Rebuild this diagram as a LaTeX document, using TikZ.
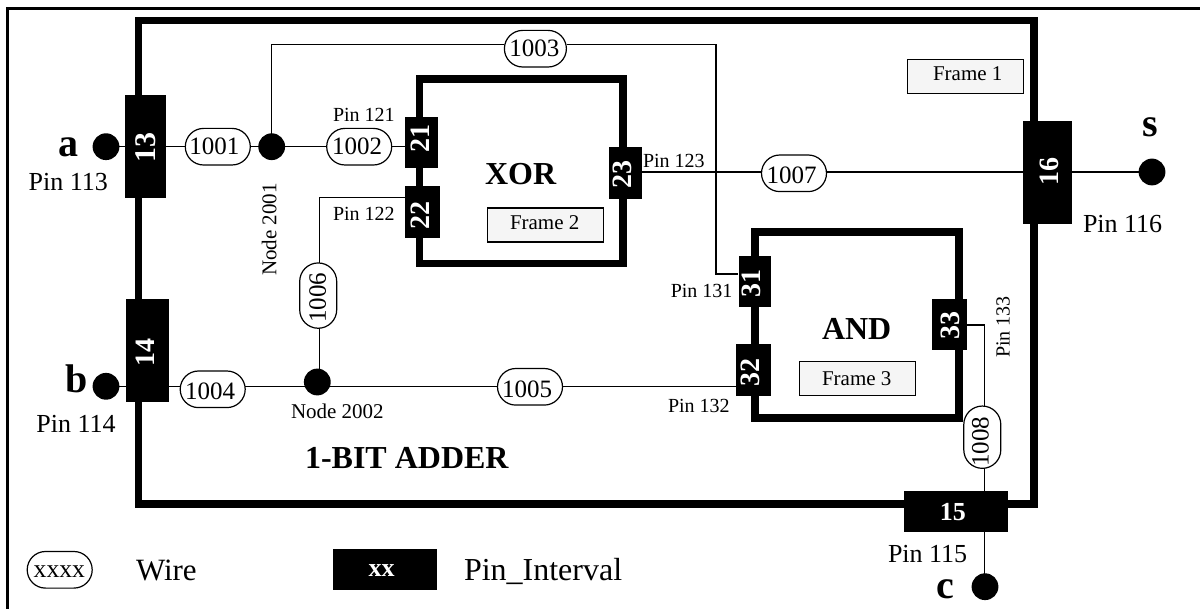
\documentclass[tikz,border=0pt]{standalone}
\usepackage{fontspec}
\setmainfont{Liberation Serif}
\usetikzlibrary{shapes.misc,backgrounds}
\newcommand{\fs}[1]{\fontsize{#1}{#1}\selectfont}
\tikzset{
  x=1pt,y=-1pt,
  wire/.style={draw=black,line width=1.2pt},
  frameline/.style={draw=black,line width=7.6pt,fill=none,inner sep=0pt,line join=miter},
  pinbox/.style={fill=black,draw=none,inner sep=0pt},
  pintext/.style={inner sep=0pt,text=white,font=\fs{28}\bfseries},
  dot/.style={circle,fill=black,draw=none,minimum size=26.8pt,inner sep=0pt},
  pill/.style={rounded rectangle,draw=black,line width=1.2pt,fill=white,inner sep=0pt,minimum height=36.6pt,minimum width=65pt},
  vpill/.style={rounded rectangle,rotate=90,draw=black,line width=1.2pt,fill=white,inner sep=0pt,minimum height=37pt},
  pilltext/.style={inner sep=0pt,font=\fs{25}},
  framebox/.style={draw=black,line width=1.2pt,fill=black!4,inner sep=0pt,minimum width=116pt,minimum height=34pt},
  lbl/.style={anchor=base west,inner sep=0pt,outer sep=0pt},
  small/.style={lbl,font=\fs{20}},
  pinlbl/.style={lbl,font=\fs{26}},
  framelbl/.style={lbl,font=\fs{21}},
  big/.style={lbl,font=\fs{32}\bfseries},
  port/.style={lbl,font=\fs{40}\bfseries},
}
% name, cx, cy, w, h, tx, ty, text
\newcommand{\pinnode}[8]{\node[pinbox,minimum width=#4pt,minimum height=#5pt] (#1) at (#2,#3) {};\node[pintext] (#1t) at (#6,#7) {#8};}
\begin{document}
\begin{tikzpicture}
\useasboundingbox (0,0) rectangle (1200,609);
% pins
\pinnode{p13}{145.5}{146.7}{41}{103}{145.5}{148}{\rotatebox{90}{\fs{30}13}}
\pinnode{p14}{147.5}{350.5}{43}{103}{145.5}{352.2}{\rotatebox{90}{14}}
\pinnode{p15}{955.8}{511.5}{103.6}{41}{952.8}{512.3}{\fs{26}15}
\pinnode{p16}{1047.5}{172.2}{49}{103}{1049}{172}{\rotatebox{90}{16}}
\pinnode{p21}{421.5}{142.3}{33}{51.4}{420}{139}{\rotatebox{90}{21}}
\pinnode{p22}{422.5}{211.8}{35}{51.6}{420}{216}{\rotatebox{90}{22}}
\pinnode{p23}{625.3}{173.2}{32.7}{51.7}{622.5}{174.8}{\rotatebox{90}{23}}
\pinnode{p31}{754.8}{281.5}{32.5}{51.6}{751.7}{283.7}{\rotatebox{90}{31}}
\pinnode{p32}{753.5}{370}{35}{51.4}{750.8}{372.5}{\rotatebox{90}{32}}
\pinnode{p33}{949.5}{324.5}{35}{51}{950}{325.8}{\rotatebox{90}{33}}
% dots
\node[dot] (a) at (106,146.7) {};
\node[dot] (b) at (106,386.3) {};
\node[dot] (c) at (985,586.7) {};
\node[dot] (s) at (1152,172) {};
\node[dot] (n2001) at (271.7,146.7) {};
\node[dot] (n2002) at (317.3,382) {};
% wire pills
\node[pill] (w1001) at (217.8,146.7) {};
\node[pill] (w1002) at (359.2,146.7) {};
\node[pill,minimum width=62pt] (w1003) at (535.4,48.7) {};
\node[pill] (w1004) at (212.7,389.3) {};
\node[pill] (w1005) at (530,386.8) {};
\node[vpill,minimum width=65.3pt] (w1006) at (318.2,295.6) {};
\node[pill] (w1007) at (794,173.3) {};
\node[vpill,minimum width=62.3pt] (w1008) at (982.3,437.2) {};
\node[pilltext] (w1001t) at (214.3,146.3) {1001};
\node[pilltext] (w1002t) at (357,146.3) {1002};
\node[pilltext] (w1003t) at (534.3,48.2) {1003};
\node[pilltext] (w1004t) at (210,391.3) {1004};
\node[pilltext] (w1005t) at (527,389) {1005};
\node[pilltext,rotate=90] (w1006t) at (317.7,298) {1006};
\node[pilltext] (w1007t) at (791.7,175) {1007};
\node[pilltext,rotate=90] (w1008t) at (980.4,441.7) {1008};
% corners
\coordinate (otl) at (7.5,8.2);
\coordinate (otr) at (1200,8.2);
\coordinate (obl) at (7.5,609);
\coordinate (c1003a) at (271.7,44.3);
\coordinate (c1003b) at (716,44.3);
\coordinate (c1003c) at (716,274);
\coordinate (c1006) at (319.6,197.7);
\coordinate (c1008) at (984.6,325);
\begin{scope}[on background layer]
  \draw[black,line width=3pt,line join=miter] (otr) -- (otl) -- (obl);
  \node[frameline,minimum width=895.5pt,minimum height=483.7pt] (adder) at (586.2,262.2) {};
  \node[frameline,minimum width=203.6pt,minimum height=184.3pt] (xor) at (521.2,171.2) {};
  \node[frameline,minimum width=204pt,minimum height=186pt] (and) at (857,325) {};
  \draw[wire] (a.center) -- (p13.center) -- (w1001.center) -- (n2001.center) -- (w1002.center) -- (p21.center |- w1002.center);
  \draw[wire] (n2001.center) -- (c1003a) -- (w1003.west |- c1003a) (w1003.east |- c1003a) -- (c1003b) -- (c1003c) -- (p31.west |- c1003c);
  \draw[wire] (p22.west |- c1006) -- (c1006) -- (c1006 |- n2002.center);
  \draw[wire] (b.center) -- (p32.center |- b.center);
  \draw[wire] (p23.east |- s.center) -- (s.center);
  \draw[wire] (p33.east |- c1008) -- (c1008) -- (c1008 |- c.center);
\end{scope}
% frame labels
\node[framebox] (f1) at (965.3,76.5) {};
\node[framebox] (f2) at (545.5,225) {};
\node[framebox] (f3) at (857.7,378.7) {};
\node[framelbl] (f1t) at (933,81) {Frame 1};
\node[framelbl] (f2t) at (510,230) {Frame 2};
\node[framelbl] (f3t) at (822,385.7) {Frame 3};
% titles
\node[big] (xort) at (485,185) {XOR};
\node[big] (andt) at (822,340) {AND};
\node[big] (addt) at (305,468.3) {1-BIT ADDER};
% ports
\node[port] (at) at (58,156.7) {a};
\node[port] (bt) at (65,392.3) {b};
\node[port] (ct) at (936,598) {c};
\node[port] (st) at (1142.7,136.7) {s};
% pin labels
\node[pinlbl] (l113) at (28.7,190.7) {Pin 113};
\node[pinlbl] (l114) at (36.4,432.3) {Pin 114};
\node[pinlbl] (l115) at (888,562) {Pin 115};
\node[pinlbl] (l116) at (1083,232.7) {Pin 116};
\node[small] (l121) at (333,122) {Pin 121};
\node[small] (l122) at (333,221) {Pin 122};
\node[small] (l123) at (643,167.7) {Pin 123};
\node[small] (l131) at (670.8,297.7) {Pin 131};
\node[small] (l132) at (668,412.7) {Pin 132};
\node[small,rotate=90] (l133) at (1009.5,358) {Pin 133};
\node[framelbl,rotate=90] (ln1) at (276.3,276) {Node 2001};
\node[framelbl] (ln2) at (291,418.3) {Node 2002};
% legend
\node[pill] (lw) at (59.7,569.8) {};
\node[pilltext,font=\fs{25.6}] (lwx) at (59.3,572) {xxxx};
\node[lbl,font=\fs{31}] (lwt) at (136,580) {Wire};
\node[fill=black,inner sep=0pt,minimum width=103.7pt,minimum height=41pt] (lp) at (384.8,569.5) {};
\node[lbl,text=white,font=\fs{26}\bfseries] (lpx) at (368.5,576) {xx};
\node[lbl,font=\fs{32}] (lpt) at (464,580) {Pin\_Interval};
\end{tikzpicture}
\end{document}
